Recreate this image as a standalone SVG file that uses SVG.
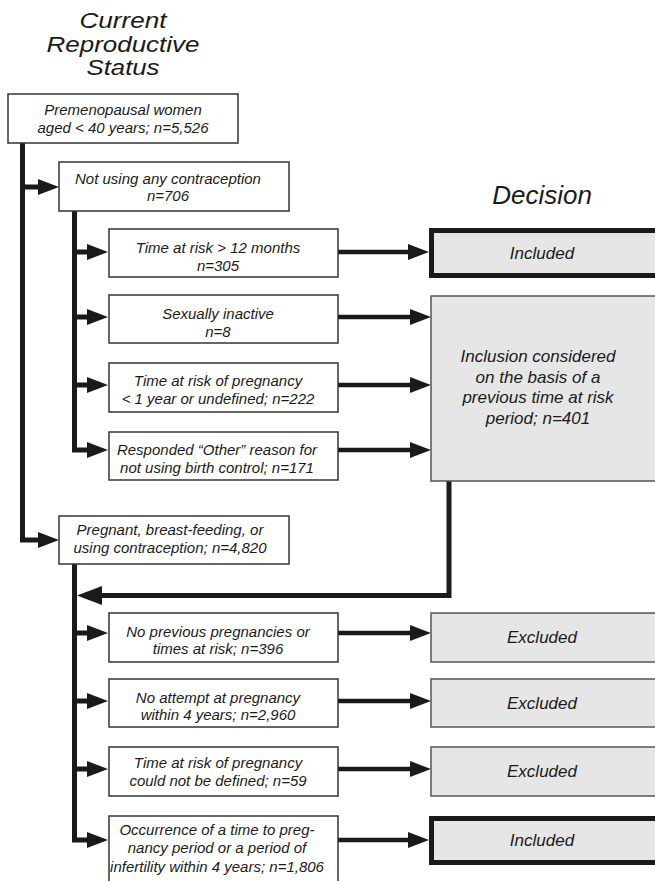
<svg xmlns="http://www.w3.org/2000/svg" width="655" height="881" viewBox="0 0 655 881">
<style>
text{font-family:"Liberation Sans",Arial,sans-serif;font-style:italic;fill:#1a1a1a;text-anchor:middle}
.title{font-size:22px}
.dtitle{font-size:26px}
.t{font-size:15px}
.d{font-size:17px}
.box{fill:#fff;stroke:#333;stroke-width:1.5}
.dec{fill:#e6e6e6;stroke:#555;stroke-width:1.5}
.inc{fill:#e6e6e6;stroke:#1a1a1a;stroke-width:5}
.c{fill:none;stroke:#1a1a1a;stroke-width:5;stroke-linejoin:miter}
.r{fill:none;stroke:#1a1a1a;stroke-width:4.5}
</style>
<defs>
<marker id="ah" markerUnits="userSpaceOnUse" markerWidth="21" markerHeight="16" refX="10" refY="8" orient="auto" viewBox="0 0 21 16">
<path d="M0,0 L21,8 L0,16 z" fill="#1a1a1a"/>
</marker>
<marker id="ahb" markerUnits="userSpaceOnUse" markerWidth="25" markerHeight="19" refX="12" refY="9.5" orient="auto" viewBox="0 0 25 19">
<path d="M0,0 L25,9.5 L0,19 z" fill="#1a1a1a"/>
</marker>
</defs>

<g id="headers">
<text class="title" x="123" y="28" textLength="87" lengthAdjust="spacingAndGlyphs">Current</text>
<text class="title" x="123" y="52" textLength="153" lengthAdjust="spacingAndGlyphs">Reproductive</text>
<text class="title" x="123" y="75" textLength="73" lengthAdjust="spacingAndGlyphs">Status</text>
<text class="dtitle" x="542" y="204">Decision</text>
</g>

<g id="connectors">
<path class="c" d="M22.5,143 V540 H48" marker-end="url(#ah)"/>
<path class="c" d="M22.5,187 H48" marker-end="url(#ah)"/>
<path class="c" d="M74.5,211 V450 H97" marker-end="url(#ah)"/>
<path class="c" d="M74.5,252 H97" marker-end="url(#ah)"/>
<path class="c" d="M74.5,317 H97" marker-end="url(#ah)"/>
<path class="c" d="M74.5,385 H97" marker-end="url(#ah)"/>
<path class="c" d="M74.5,564 V840 H97" marker-end="url(#ah)"/>
<path class="c" d="M74.5,633 H97" marker-end="url(#ah)"/>
<path class="c" d="M74.5,701 H97" marker-end="url(#ah)"/>
<path class="c" d="M74.5,769 H97" marker-end="url(#ah)"/>
<path class="c" d="M449,481 V595.5 H90" marker-end="url(#ahb)"/>
<path class="r" d="M338,252 H418" marker-end="url(#ah)"/>
<path class="r" d="M338,317 H420" marker-end="url(#ah)"/>
<path class="r" d="M338,385 H420" marker-end="url(#ah)"/>
<path class="r" d="M338,450 H420" marker-end="url(#ah)"/>
<path class="r" d="M338,633 H420" marker-end="url(#ah)"/>
<path class="r" d="M338,701 H420" marker-end="url(#ah)"/>
<path class="r" d="M338,769 H420" marker-end="url(#ah)"/>
<path class="r" d="M338,840 H418" marker-end="url(#ah)"/>
</g>

<g id="n_premeno">
<rect class="box" x="8" y="94" width="230" height="49"/>
<text class="t" x="123" y="115">Premenopausal women</text>
<text class="t" x="123" y="133">aged &lt; 40 years; n=5,526</text>
</g>

<g id="n_notusing">
<rect class="box" x="59" y="162" width="230" height="49"/>
<text class="t" x="168" y="184">Not using any contraception</text>
<text class="t" x="168" y="201">n=706</text>
</g>

<g id="n_risk12">
<rect class="box" x="109" y="229" width="229" height="48"/>
<text class="t" x="218" y="253">Time at risk &gt; 12 months</text>
<text class="t" x="218" y="271">n=305</text>
</g>

<g id="n_inactive">
<rect class="box" x="109" y="295" width="229" height="48"/>
<text class="t" x="218" y="319">Sexually inactive</text>
<text class="t" x="218" y="337">n=8</text>
</g>

<g id="n_risk1y">
<rect class="box" x="109" y="363" width="229" height="49"/>
<text class="t" x="218" y="386">Time at risk of pregnancy</text>
<text class="t" x="218" y="404">&lt; 1 year or undefined; n=222</text>
</g>

<g id="n_other">
<rect class="box" x="109" y="432" width="229" height="48"/>
<text class="t" x="217" y="455">Responded “Other” reason for</text>
<text class="t" x="217" y="473">not using birth control; n=171</text>
</g>

<g id="n_pregnant">
<rect class="box" x="59" y="516" width="230" height="48"/>
<text class="t" x="170" y="535">Pregnant, breast-feeding, or</text>
<text class="t" x="170" y="553">using contraception; n=4,820</text>
</g>

<g id="n_noprev">
<rect class="box" x="109" y="613" width="229" height="49"/>
<text class="t" x="218" y="637">No previous pregnancies or</text>
<text class="t" x="218" y="654">times at risk; n=396</text>
</g>

<g id="n_noattempt">
<rect class="box" x="109" y="679" width="229" height="48"/>
<text class="t" x="218" y="703">No attempt at pregnancy</text>
<text class="t" x="218" y="720">within 4 years; n=2,960</text>
</g>

<g id="n_undefined">
<rect class="box" x="109" y="747" width="229" height="49"/>
<text class="t" x="218" y="768">Time at risk of pregnancy</text>
<text class="t" x="218" y="786">could not be defined; n=59</text>
</g>

<g id="n_occurrence">
<rect class="box" x="109" y="816" width="229" height="80"/>
<text class="t" x="217" y="835">Occurrence of a time to preg-</text>
<text class="t" x="217" y="853">nancy period or a period of</text>
<text class="t" x="217" y="872">infertility within 4 years; n=1,806</text>
</g>

<g id="d_included1">
<rect class="inc" x="431.5" y="230.5" width="240" height="45"/>
<text class="d" x="542" y="259">Included</text>
</g>

<g id="d_considered">
<rect class="dec" x="431" y="296" width="240" height="185"/>
<text class="d" x="538" y="362">Inclusion considered</text>
<text class="d" x="538" y="383">on the basis of a</text>
<text class="d" x="538" y="403">previous time at risk</text>
<text class="d" x="538" y="424">period; n=401</text>
</g>

<g id="d_excluded1">
<rect class="dec" x="431" y="613" width="240" height="49"/>
<text class="d" x="542" y="643">Excluded</text>
</g>

<g id="d_excluded2">
<rect class="dec" x="431" y="679" width="240" height="48"/>
<text class="d" x="542" y="709">Excluded</text>
</g>

<g id="d_excluded3">
<rect class="dec" x="431" y="747" width="240" height="49"/>
<text class="d" x="542" y="777">Excluded</text>
</g>

<g id="d_included2">
<rect class="inc" x="431.5" y="818.5" width="240" height="44"/>
<text class="d" x="542" y="846">Included</text>
</g>
</svg>
